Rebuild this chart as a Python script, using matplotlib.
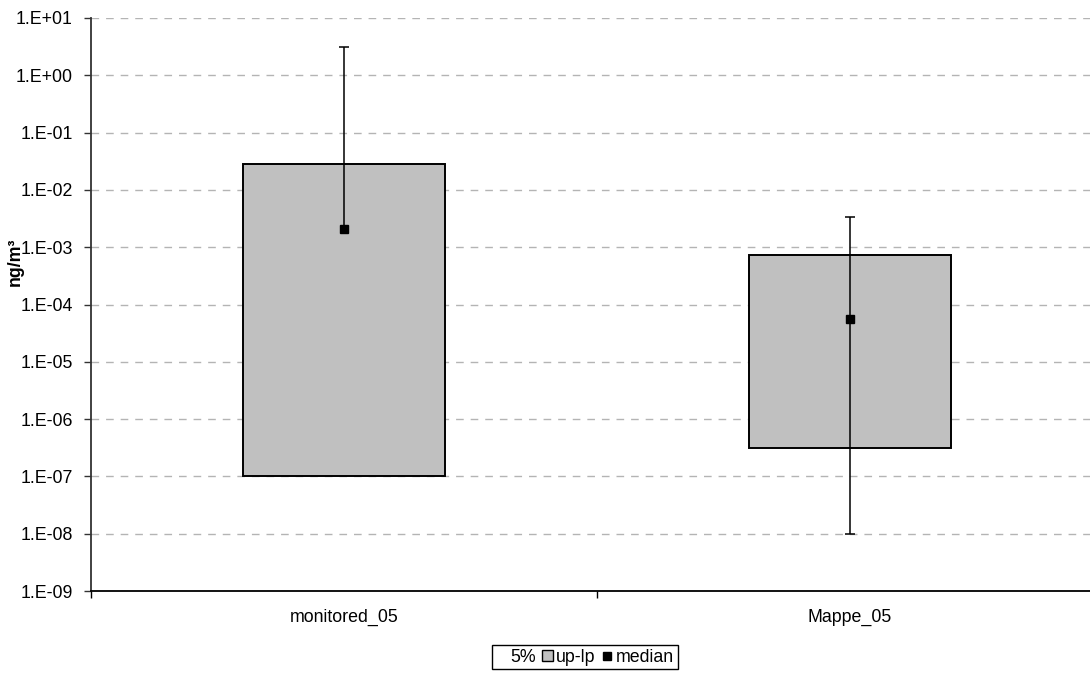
import numpy as np
import matplotlib.pyplot as plt
from matplotlib.patches import Patch
from matplotlib.lines import Line2D
from matplotlib.ticker import FuncFormatter, FixedLocator

plt.rcParams['font.family'] = ['Liberation Sans', 'DejaVu Sans']

# data (ng/m3)
categories = ['monitored_05', 'Mappe_05']
p5 = np.array([1.0e-7, 3.1e-7])          # lower percentile (invisible base)
p95 = np.array([2.8e-2, 7.2e-4])         # upper percentile
median = np.array([2.1e-3, 5.5e-5])
max_vals = np.array([3.1, 3.4e-3])
min_vals = np.array([np.nan, 1.0e-8])   # no lower whisker for monitored

up_lp = p95 - p5
x = np.arange(len(categories))
fs = 12.8

fig = plt.figure(figsize=(10.9, 6.73), dpi=100)
ax = fig.add_axes([91/1090, 1 - 591/673, 1012/1090, 573/673])

ax.set_yscale('log')
ax.set_ylim(1e-9, 1e1)
ax.set_xlim(-0.5, 1.5)

# grid
ax.yaxis.grid(True, which='major', color='#b4b4b4', linestyle=(0, (5.5, 5)), linewidth=1)
ax.set_axisbelow(True)

# stacked bars: 5% base is invisible, up-lp drawn on top
ax.bar(x, p5, width=0.4, color='none', edgecolor='none')
ax.bar(x, up_lp, width=0.4, bottom=p5, color='#c0c0c0', edgecolor='black', linewidth=1.4, zorder=2)

# whiskers min/max through the median
low_end = np.where(np.isnan(min_vals), median, min_vals)
ax.vlines(x, low_end, max_vals, color='black', linewidth=1.1, zorder=3)
ax.plot(x, max_vals, linestyle='none', marker='_', markersize=7, markeredgewidth=1.1,
        color='black', zorder=3)
ax.plot(x, min_vals, linestyle='none', marker='_', markersize=7, markeredgewidth=1.1,
        color='black', zorder=3)
ax.plot(x, median, linestyle='none', marker='s', markersize=5.5, color='black', zorder=4)

# axes styling
for side in ['top', 'right']:
    ax.spines[side].set_visible(False)
ax.spines['left'].set_color('#333333')
ax.spines['bottom'].set_color('black')
ax.spines['left'].set_linewidth(1.3)
ax.spines['bottom'].set_linewidth(1.3)

ax.yaxis.set_major_locator(FixedLocator([10.0**k for k in range(-9, 2)]))
ax.yaxis.set_minor_locator(FixedLocator([]))
ax.yaxis.set_major_formatter(FuncFormatter(lambda v, p: '1.E{:+03d}'.format(int(round(np.log10(v))))))
ax.tick_params(axis='y', which='major', direction='out', length=5, width=1, pad=8,
               labelsize=fs, color='#333333')

ax.set_xticks([-0.5, 0.5, 1.5])
ax.set_xticklabels([])
ax.set_xticks(x, minor=True)
ax.set_xticklabels(categories, minor=True)
ax.tick_params(axis='x', which='major', direction='out', length=5, width=1)
ax.tick_params(axis='x', which='minor', length=0, pad=13, labelsize=fs)

fig.text(15/1090, 1 - 262/673, 'ng/m³', rotation=90, ha='center', va='center',
         fontsize=fs, fontweight='bold')

handles = [Patch(facecolor='none', edgecolor='none'),
           Patch(facecolor='#c0c0c0', edgecolor='black', linewidth=1),
           Line2D([], [], marker='s', color='black', linestyle='none', markersize=5.5)]
leg = fig.legend(handles, ['5%', 'up-lp', 'median'], loc='center', ncol=3,
                 bbox_to_anchor=(585/1090, 1 - 657/673), fontsize=fs,
                 handlelength=0.6, handleheight=0.6, handletextpad=0.2,
                 columnspacing=0.35, fancybox=False, framealpha=1,
                 edgecolor='black', borderpad=0.2)
leg.get_frame().set_linewidth(1)

fig.savefig('out.png', dpi=100)
